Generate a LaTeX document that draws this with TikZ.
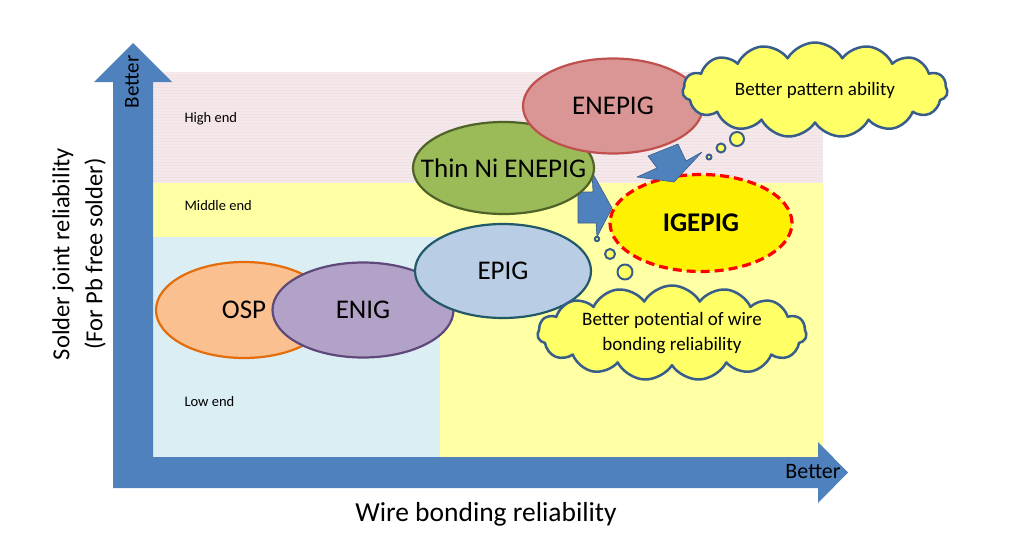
\documentclass[tikz,border=0pt]{standalone}
\usepackage{fontspec}
\setmainfont{Carlito}
\usetikzlibrary{shapes.geometric,shapes.symbols}
\definecolor{axblue}{HTML}{4F81BD}
\definecolor{bluedge}{HTML}{385D8A}
\definecolor{highbg}{HTML}{F5E8EA}
\definecolor{highln}{HTML}{F1E1E4}
\definecolor{midbg}{HTML}{FFFFA3}
\definecolor{lowbg}{HTML}{DBEEF4}
\definecolor{bubfill}{HTML}{FFFF66}
\newcommand{\coatname}[1]{\makebox[0pt]{#1}}
\tikzset{
	coat/.style={ellipse,draw,line width=2.2pt,inner sep=0pt,minimum width=180,minimum height=95,font=\fontsize{27}{30}\selectfont},
	thought/.style={cloud,cloud puffs=15,cloud puff arc=120,aspect=2.8,draw=bluedge,fill=bubfill,line width=2.5pt,inner sep=0pt},
	thoughttext/.style={align=center,font=\fontsize{19}{25}\selectfont},
	puff/.style={draw=bluedge,fill=bubfill,line width=2pt},
	blockarrow/.style={fill=axblue,draw=bluedge,line width=0.6pt},
	bandlabel/.style={anchor=west,font=\fontsize{14.5}{17}\selectfont}
}
\begin{document}
\begin{tikzpicture}[x=1pt,y=-1pt,line join=round,font=\fontsize{27.5}{32}\selectfont]
		\useasboundingbox (0,0) rectangle (1030,554);
		% bands
		\fill[highbg] (153,72) rectangle (823,183);
		\foreach \yy in {75,78,...,181} \draw[highln,line width=0.4pt] (153,\yy)--(823,\yy);
		\fill[midbg] (153,183) rectangle (823,237);
		\fill[lowbg] (153,237) rectangle (440,457);
		\fill[midbg] (440,237) rectangle (823,457);
		\node[bandlabel] (high) at (181,119) {High end};
		\node[bandlabel] (mid) at (181,206) {Middle end};
		\node[bandlabel] (low) at (181,402) {Low end};
		% axes
		\fill[axblue] (113,488)--(113,82)--(94,82)--(133,43)--(172,82)--(153,82)--(153,457)--(818,457)--(818,442)--(848,472.5)--(818,503)--(818,488)--cycle;
		\node[rotate=90,font=\fontsize{21}{25}\selectfont] (ybetter) at (132,82) {Better};
		\node[font=\fontsize{22}{26}\selectfont] (xbetter) at (813,472) {Better};
		\node[rotate=90,align=center,font=\fontsize{24.5}{33}\selectfont] (ytitle) at (79,254) {Solder joint reliability\\(For Pb free solder)};
		\node (xtitle) at (486,514) {Wire bonding reliability};
		% coatings
		\node[coat,fill={rgb,255:red,250;green,192;blue,144},draw={rgb,255:red,228;green,108;blue,10},minimum width=176,minimum height=96] (osp) at (244,310) {\coatname{OSP}};
		\node[coat,fill={rgb,255:red,179;green,162;blue,199},draw={rgb,255:red,95;green,73;blue,122},minimum width=181] (enig) at (363,310) {\coatname{ENIG}};
		\node[coat,fill={rgb,255:red,185;green,205;blue,229},draw={rgb,255:red,33;green,89;blue,104},minimum width=176,minimum height=94] (epig) at (503,271) {\coatname{EPIG}};
		\node[coat,fill=yellow,draw=red,line width=3.2pt,dash pattern=on 9pt off 5pt,minimum width=182,minimum height=97,font=\fontsize{27}{30}\selectfont\bfseries] (igepig) at (701,223) {\coatname{IGEPIG}};
		\fill[blockarrow] (578,192)--(593,192)--(592,172)--(612,208)--(597,237)--(596,223)--(578,223)--cycle;
		\node[coat,fill={rgb,255:red,155;green,187;blue,89},draw={rgb,255:red,79;green,98;blue,40},minimum width=181,minimum height=92] (thinni) at (503.5,168) {\coatname{Thin Ni ENEPIG}};
		\node[coat,fill={rgb,255:red,217;green,150;blue,148},draw={rgb,255:red,192;green,80;blue,77}] (enepig) at (613,106) {\coatname{ENEPIG}};
		\fill[blockarrow] (648,156)--(678,144)--(686,161)--(702,152)--(674,182)--(637,177)--(657,168)--cycle;
		% thought clouds
		\draw[puff] (709,157) circle (2.5) (721,148) circle (4.5) (737,139) circle (7);
		\draw[puff] (597,239) circle (2.2) (610,254) circle (5) (625,272) circle (7.5);
		\node[thought,minimum width=265,minimum height=95,label={[thoughttext]center:Better pattern ability}] (pattern) at (815,90) {};
		\node[thought,minimum width=269,minimum height=95,label={[thoughttext]center:Better potential of wire\\bonding reliability}] (wirebond) at (672,333) {};
\end{tikzpicture}
\end{document}
